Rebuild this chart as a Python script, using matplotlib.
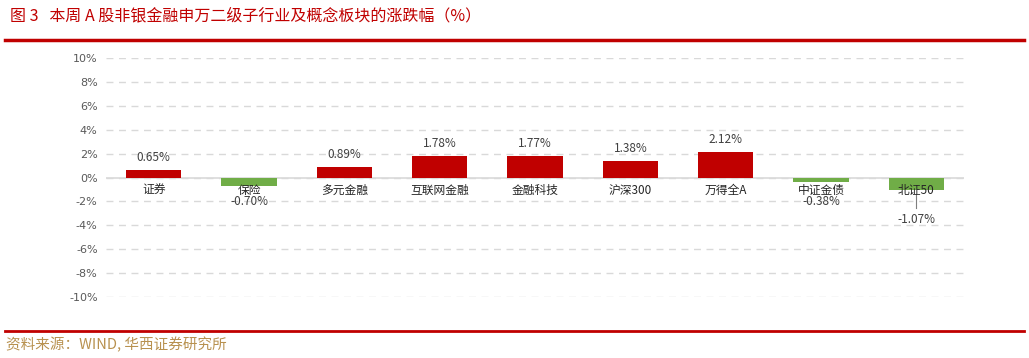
import matplotlib.pyplot as plt
import numpy as np
from matplotlib.lines import Line2D

plt.rcParams['font.family'] = ['Noto Sans CJK SC', 'DejaVu Sans']

# --- data ---------------------------------------------------------------
categories = ["证券", "保险", "多元金融", "互联网金融", "金融科技",
              "沪深300", "万得全A", "中证金债", "北证50"]
changes = [0.65, -0.70, 0.89, 1.78, 1.77, 1.38, 2.12, -0.38, -1.07]
yticks = list(range(-10, 11, 2))

RED = "#C00000"
GREEN = "#70AD47"

fig = plt.figure(figsize=(10.29, 3.58), dpi=100)
ax = fig.add_axes([0.103, 0.170, 0.834, 0.668])

x = np.arange(len(categories))
colors = [RED if v >= 0 else GREEN for v in changes]
ax.bar(x, changes, width=0.58, color=colors, zorder=3)

ax.set_xlim(-0.5, len(categories) - 0.5)
ax.set_ylim(-10, 10)
ax.set_yticks(yticks)
ax.set_yticklabels([f"{t}%" for t in yticks], fontsize=8, color="#595959",
                   family=["DejaVu Sans"])
ax.set_xticks([])
ax.tick_params(axis="y", length=0, pad=6)
for s in ax.spines.values():
    s.set_visible(False)
ax.grid(axis="y", color="#D9D9D9", linestyle=(0, (5, 4)), linewidth=1, zorder=0)
ax.axhline(0, color="#D9D9D9", linewidth=1.2, zorder=2)

# category labels just below the zero line
for i, c in enumerate(categories):
    ax.text(i, -0.5, c, ha="center", va="top", fontsize=8.5, color="#262626", zorder=5)

# value labels
for i, v in enumerate(changes):
    if v >= 0:
        ax.text(i, v + 0.5, f"{v:.2f}%", ha="center", va="bottom", fontsize=8.5,
                color="#404040", zorder=5)
    elif i == len(changes) - 1:
        ax.plot([i, i], [v - 0.3, v - 1.5], color="#7F7F7F", linewidth=0.8, zorder=4)
        ax.text(i, v - 1.9, f"{v:.2f}%", ha="center", va="top", fontsize=8.5,
                color="#404040", zorder=5)
    else:
        ax.text(i, -1.45, f"{v:.2f}%", ha="center", va="top", fontsize=8.5,
                color="#404040", zorder=5)

# header / footer
fig.text(0.010, 0.955, "图 3   本周 A 股非银金融申万二级子行业及概念板块的涨跌幅（%）",
         fontsize=11.5, color=RED, ha="left", va="center")
fig.add_artist(Line2D([0.005, 0.995], [0.888, 0.888], color=RED, linewidth=2.5,
                      transform=fig.transFigure))
fig.add_artist(Line2D([0.005, 0.995], [0.075, 0.075], color=RED, linewidth=2,
                      transform=fig.transFigure))
fig.text(0.006, 0.037, "资料来源：WIND, 华西证券研究所", fontsize=10.5,
         color="#B8914F", ha="left", va="center")

fig.savefig("out.png", dpi=100)
